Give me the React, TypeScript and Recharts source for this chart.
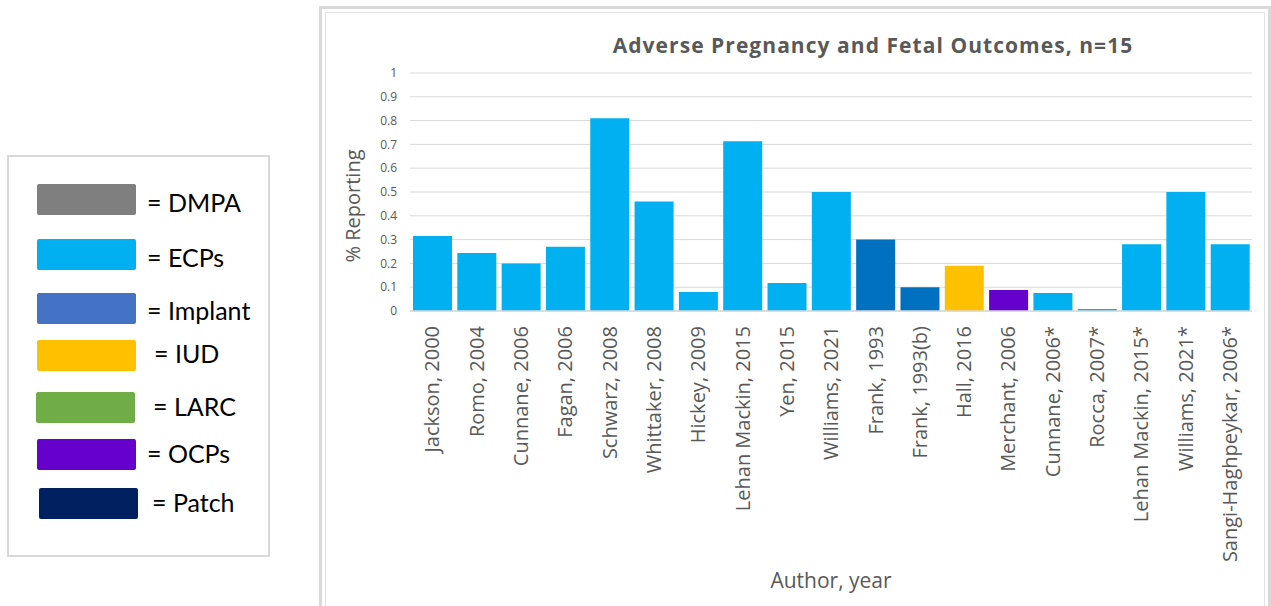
import React from 'react';
import { BarChart, Bar, XAxis, YAxis, CartesianGrid, Cell, Legend, Label } from 'recharts';

// Studies (author, year) in plotted order
const authors = [
  'Jackson, 2000',
  'Romo, 2004',
  'Cunnane, 2006',
  'Fagan, 2006',
  'Schwarz, 2008',
  'Whittaker, 2008',
  'Hickey, 2009',
  'Lehan Mackin, 2015',
  'Yen, 2015',
  'Williams, 2021',
  'Frank, 1993',
  'Frank, 1993(b)',
  'Hall, 2016',
  'Merchant, 2006',
  'Cunnane, 2006*',
  'Rocca, 2007*',
  'Lehan Mackin, 2015*',
  'Williams, 2021*',
  'Sangi-Haghpeykar, 2006*',
];

// Share of participants reporting adverse pregnancy / fetal outcomes
const reporting = [
  0.315, 0.244, 0.2, 0.27, 0.81, 0.46, 0.08, 0.713, 0.118, 0.5,
  0.3, 0.1, 0.19, 0.088, 0.076, 0.008, 0.28, 0.5, 0.28,
];

// Contraceptive method studied in each report
const methods = [
  'ECPs', 'ECPs', 'ECPs', 'ECPs', 'ECPs', 'ECPs', 'ECPs', 'ECPs', 'ECPs', 'ECPs',
  'Implant', 'Implant', 'IUD', 'OCPs',
  'ECPs', 'ECPs', 'ECPs', 'ECPs', 'ECPs',
];

const yTicks = [0, 0.1, 0.2, 0.3, 0.4, 0.5, 0.6, 0.7, 0.8, 0.9, 1];
const yTickLabels = ['0', '0.1', '0.2', '0.3', '0.4', '0.5', '0.6', '0.7', '0.8', '0.9', '1'];

// Legend key
const legendMethods = ['DMPA', 'ECPs', 'Implant', 'IUD', 'LARC', 'OCPs', 'Patch'];
const legendColors = ['#7F7F7F', '#00B0F0', '#4472C4', '#FFC000', '#70AD47', '#6600CC', '#002060'];

// Bar fills per method
const barFill: Record<string, string> = {
  ECPs: '#00B0F0',
  Implant: '#0070C0',
  IUD: '#FFC000',
  OCPs: '#6600CC',
};

const data = authors.map((author, i) => ({ author, value: reporting[i], method: methods[i] }));

const FONT = '"Open Sans", sans-serif';
const TEXT_GRAY = '#595959';

// Legend row layout (swatch top, swatch left, text left, text baseline)
const legendRowTop = [184, 239, 293, 340, 392, 439, 488];
const legendSwatchX = [37, 37, 37, 37, 36, 37, 39];
const legendTextX = [147, 147, 147, 154, 153, 147, 152];
const legendBaseline = [212, 267, 320, 363, 416, 463, 512];

function MethodLegend() {
  return (
    <svg width={271} height={606} style={{ position: 'absolute', left: 0, top: 0, overflow: 'visible' }}>
      <rect x={8} y={156} width={261} height={400} fill="#fff" stroke="#d9d9d9" strokeWidth={2} />
      {legendMethods.map((m, i) => (
        <g key={m}>
          <rect x={legendSwatchX[i]} y={legendRowTop[i]} width={99} height={31} rx={2} fill={legendColors[i]} />
          <text
            x={legendTextX[i]}
            y={legendBaseline[i]}
            fontFamily='Lato, "Open Sans", sans-serif'
            fontSize={25}
            fill="#000"
          >
            {'= ' + m}
          </text>
        </g>
      ))}
    </svg>
  );
}

function AuthorTick(props: any) {
  const { x, y, payload } = props;
  return (
    <text
      x={x}
      y={y}
      transform={`rotate(-90, ${x}, ${y})`}
      textAnchor="end"
      dy="0.36em"
      fill={TEXT_GRAY}
      fontSize={20}
      fontFamily={FONT}
    >
      {payload.value}
    </text>
  );
}

function YLabel(props: any) {
  const { viewBox } = props;
  const cx = viewBox.x + 3;
  const cy = viewBox.y + viewBox.height / 2 + 14;
  return (
    <text
      x={cx}
      y={cy}
      transform={`rotate(-90, ${cx}, ${cy})`}
      textAnchor="middle"
      dy="0.36em"
      fill={TEXT_GRAY}
      fontSize={20}
      fontFamily={FONT}
    >
      % Reporting
    </text>
  );
}

export default function App() {
  return (
    <div style={{ position: 'absolute', left: 0, top: 0, width: 1271, height: 606, background: '#fff', overflow: 'hidden' }}>
      {/* chart frame */}
      <div
        style={{
          position: 'absolute',
          left: 319,
          top: 6,
          width: 946,
          height: 640,
          border: '3px solid #d9d9d9',
        }}
      />
      <div
        style={{
          position: 'absolute',
          left: 325,
          top: 12,
          width: 938,
          height: 640,
          border: '1.5px solid #e3e3e3',
        }}
      />
      <div
        style={{
          position: 'absolute',
          left: 873,
          top: 32,
          transform: 'translateX(-50%)',
          whiteSpace: 'nowrap',
          fontFamily: FONT,
          fontWeight: 700,
          fontSize: 21,
          letterSpacing: 1.05,
          color: TEXT_GRAY,
          lineHeight: '27px',
        }}
      >
        Adverse Pregnancy and Fetal Outcomes, n=15
      </div>
      <BarChart
        width={1271}
        height={606}
        data={data}
        margin={{ top: 73, right: 19, left: 350, bottom: 5 }}
        barSize={39}
        style={{ position: 'absolute', left: 0, top: 0 }}
      >
        <CartesianGrid vertical={false} stroke="#d9d9d9" strokeWidth={1} />
        <XAxis
          dataKey="author"
          interval={0}
          height={290}
          tickLine={false}
          tickMargin={9}
          axisLine={{ stroke: '#d9d9d9', strokeWidth: 1.5 }}
          tick={<AuthorTick />}
        >
          <Label
            value="Author, year"
            position="insideBottom"
            offset={13}
            fill={TEXT_GRAY}
            fontSize={21}
            fontFamily={FONT}
          />
        </XAxis>
        <YAxis
          width={60}
          domain={[0, 1]}
          ticks={yTicks}
          tickFormatter={(v: number) => yTickLabels[yTicks.indexOf(v)] ?? String(v)}
          axisLine={false}
          tickLine={false}
          tickMargin={7}
          tick={{ fill: TEXT_GRAY, fontSize: 12, fontFamily: FONT }}
        >
          <Label content={<YLabel />} />
        </YAxis>
        <Legend
          layout="horizontal"
          verticalAlign="middle"
          content={<MethodLegend />}
          wrapperStyle={{ position: 'absolute', left: 0, top: 0, width: 271, height: 606 }}
        />
        <Bar dataKey="value" isAnimationActive={false}>
          {data.map((d) => (
            <Cell key={d.author} fill={barFill[d.method]} />
          ))}
        </Bar>
      </BarChart>
    </div>
  );
}
